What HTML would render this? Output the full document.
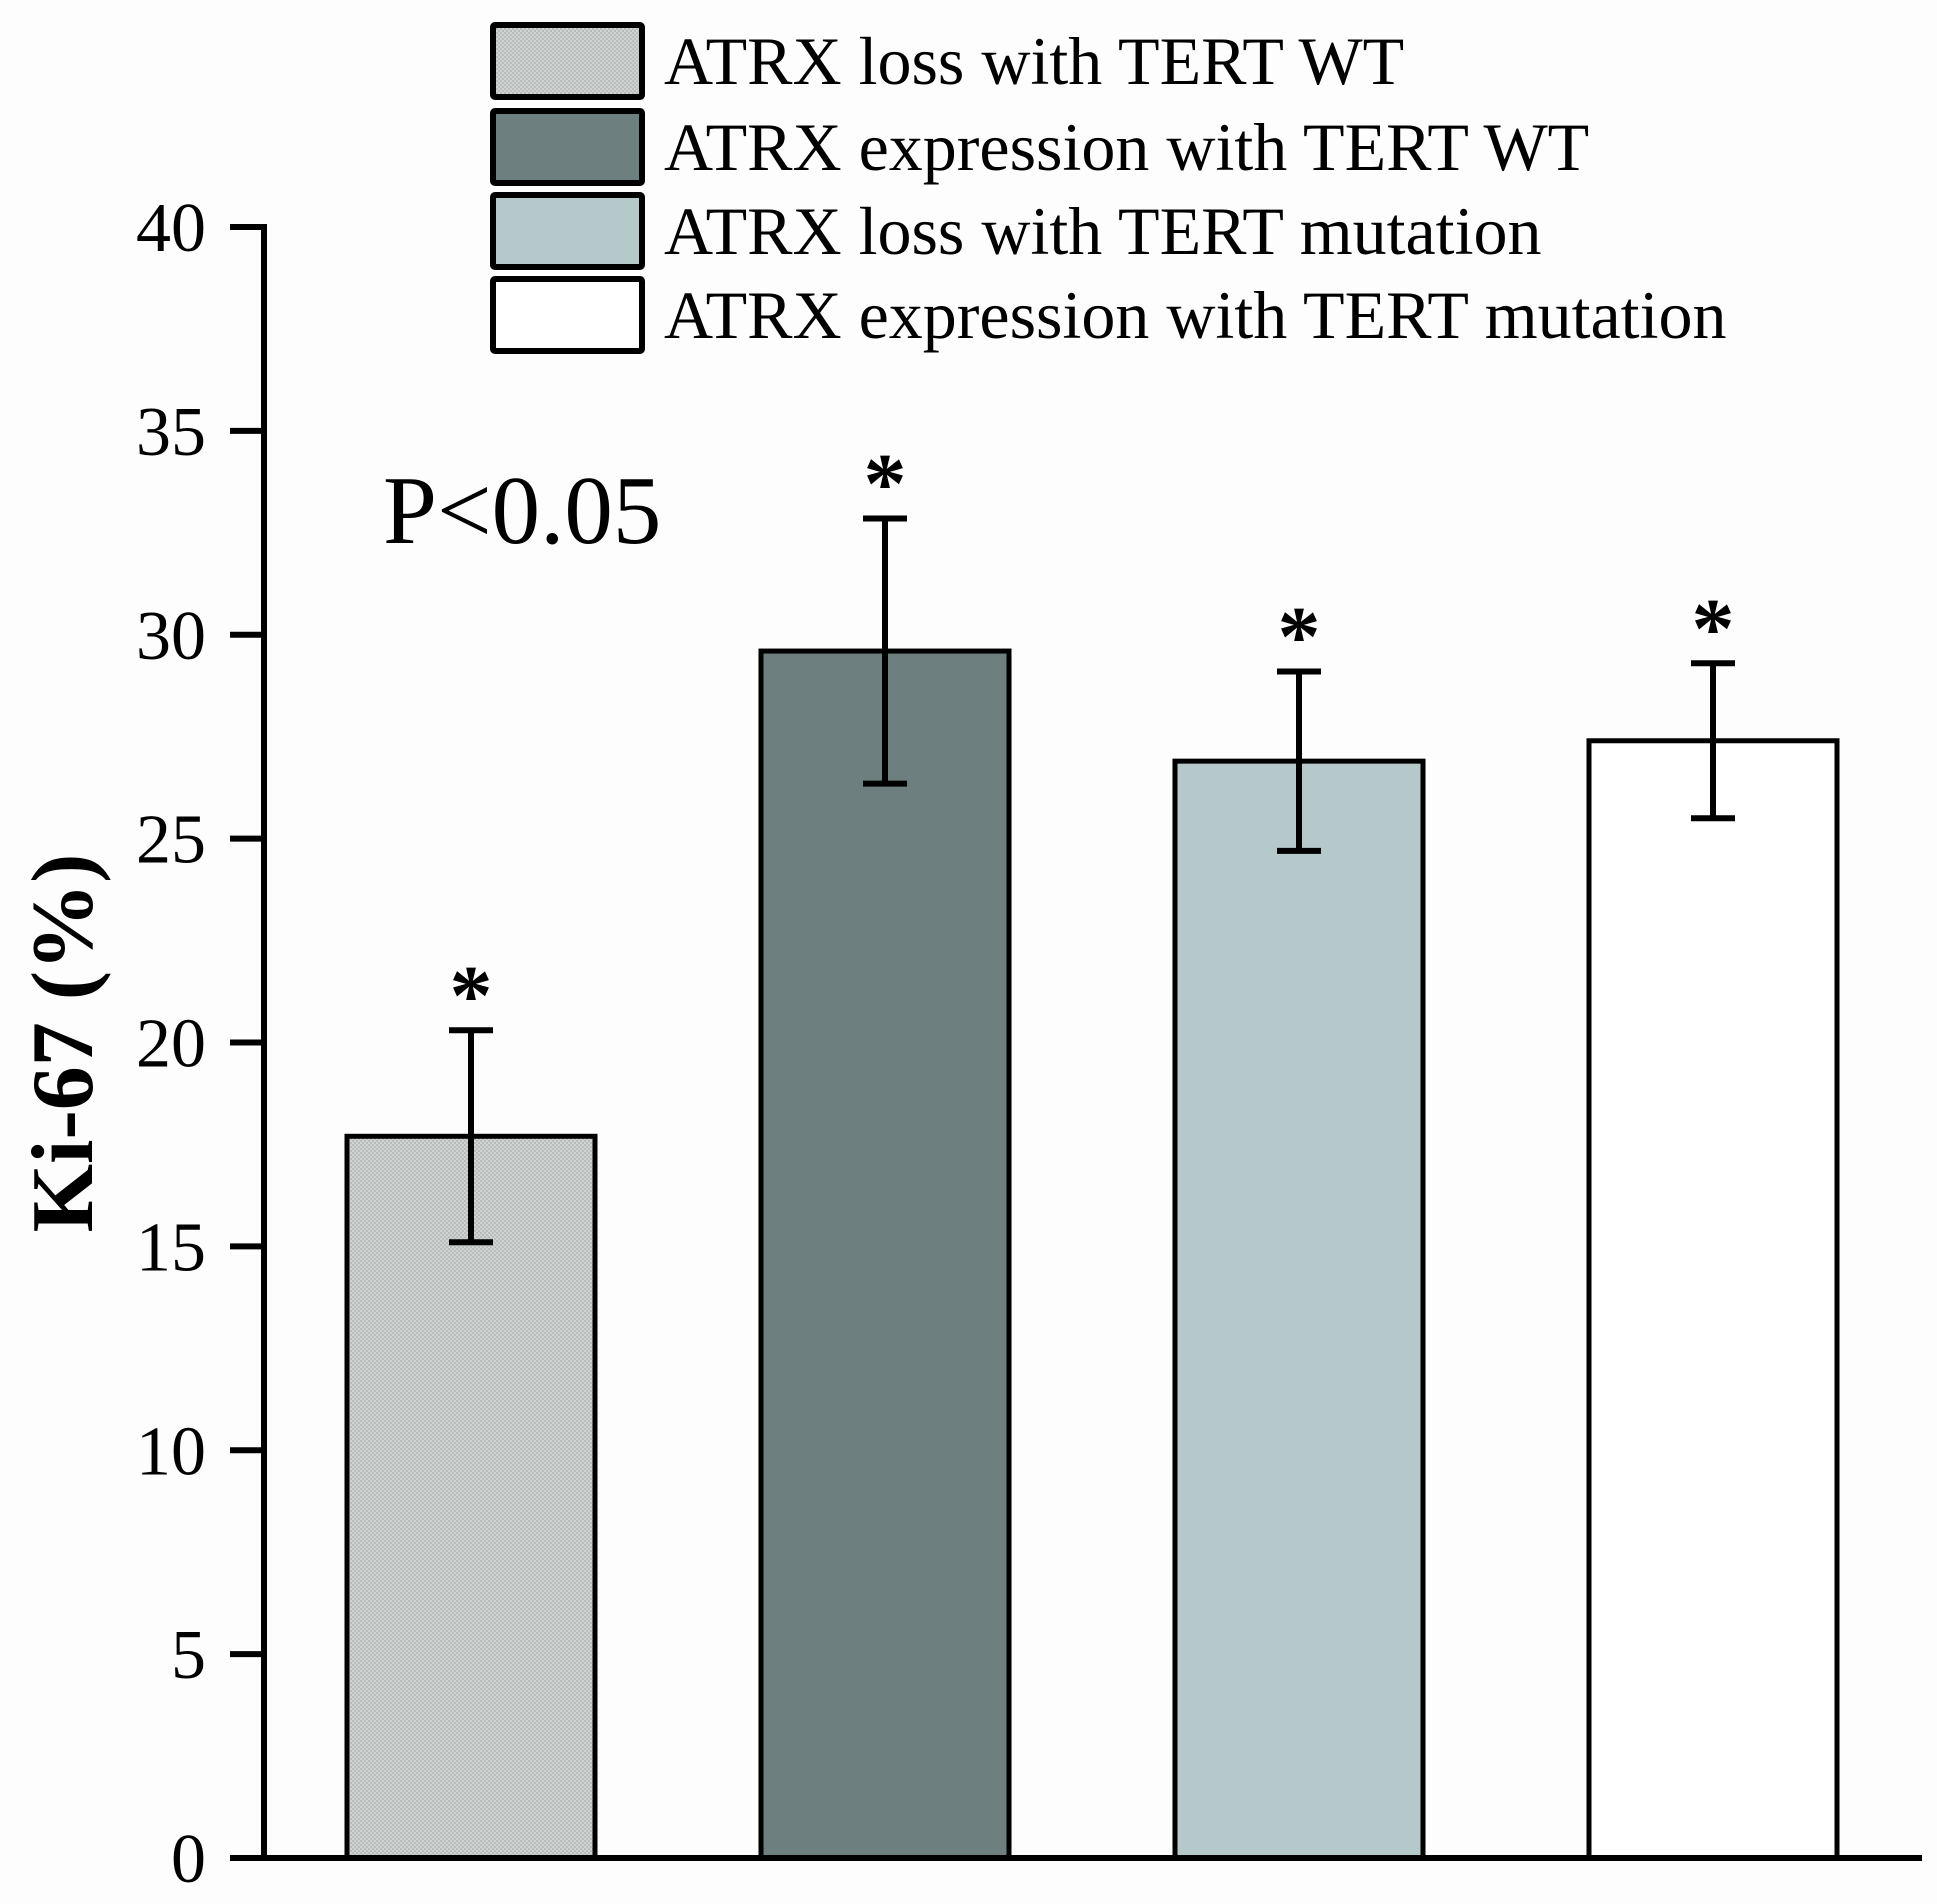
<!DOCTYPE html>
<html><head><meta charset="utf-8"><style>
html,body{margin:0;padding:0;background:#fdfdfd;}
svg{display:block;font-family:"Liberation Serif",serif;}
</style></head><body>
<svg id="chart" width="1937" height="1904" viewBox="0 0 1937 1904" xmlns="http://www.w3.org/2000/svg">
<defs>
<pattern id="stip" width="4" height="4" patternUnits="userSpaceOnUse">
<rect width="4" height="4" fill="#d0d3d2"/><rect width="2" height="2" fill="#b8bcbb"/><rect x="2" y="2" width="2" height="2" fill="#b8bcbb"/>
</pattern>
</defs>
<g id="plot"></g>
<text transform="translate(92,1043) rotate(-90)" text-anchor="middle" font-size="88" font-weight="bold">Ki-67 (%)</text>
<text x="383" y="543" font-size="97">P&lt;0.05</text>
<g id="legend"></g>
</svg>
<script>
const categories = ["ATRX loss with TERT WT","ATRX expression with TERT WT","ATRX loss with TERT mutation","ATRX expression with TERT mutation"];
const values = [17.7, 29.6, 26.9, 27.4];
const errors = [2.6, 3.25, 2.2, 1.9];
const yTicks = [0,5,10,15,20,25,30,35,40];
const fills = ["url(#stip)","#6e7f80","#b5c8ca","#ffffff"];
const NS="http://www.w3.org/2000/svg";
const y0=1858, yTop=227, yMax=40;
const y = v => y0 - v/yMax*(y0-yTop);
const xAxisL=264, band=414, barW=248, first=347;
const x = i => first + i*band;
function mk(tag,attrs,parent){const e=document.createElementNS(NS,tag);for(const k in attrs)e.setAttribute(k,attrs[k]);parent.appendChild(e);return e;}
const plot=document.getElementById('plot');
values.forEach((v,i)=>{
  const r=mk('rect',{x:x(i),y:y(v),width:barW,height:y0-y(v),fill:fills[i],stroke:'#000','stroke-width':5},plot);
  
  
  const cx=x(i)+barW/2, hi=y(v+errors[i]), lo=y(v-errors[i]);
  const g=mk('g',{stroke:'#000','stroke-width':6},plot);
  
  
  mk('line',{x1:cx,x2:cx,y1:hi,y2:lo},g);
  mk('line',{x1:cx-22,x2:cx+22,y1:hi,y2:hi},g);
  mk('line',{x1:cx-22,x2:cx+22,y1:lo,y2:lo},g);
  const t=mk('text',{x:cx,y:hi-6,'text-anchor':'middle','font-size':86,'font-weight':'bold'},plot);
  t.textContent='*';
  
  
});
const ax=mk('line',{x1:xAxisL,x2:xAxisL,y1:yTop-3,y2:y0+3,stroke:'#000','stroke-width':6},plot);


const bx=mk('line',{x1:xAxisL-34,x2:1922,y1:y0,y2:y0,stroke:'#000','stroke-width':6},plot);


yTicks.forEach(t=>{
  const l=mk('line',{x1:xAxisL-34,x2:xAxisL,y1:y(t),y2:y(t),stroke:'#000','stroke-width':6},plot);
  
  
  const tx=mk('text',{x:206,y:y(t)+24,'text-anchor':'end','font-size':70},plot);
  tx.textContent=t;
  
  
});
const leg=document.getElementById('legend');
const legY=[25,111,195,279];
categories.forEach((c,i)=>{
  const r=mk('rect',{x:493,y:legY[i],width:149,height:72,fill:fills[i],stroke:'#000','stroke-width':6,rx:2},leg);
  
  
  const t=mk('text',{x:664,y:legY[i]+59,'font-size':68},leg);
  t.textContent=c;
  
  
});
</script>
</body></html>
